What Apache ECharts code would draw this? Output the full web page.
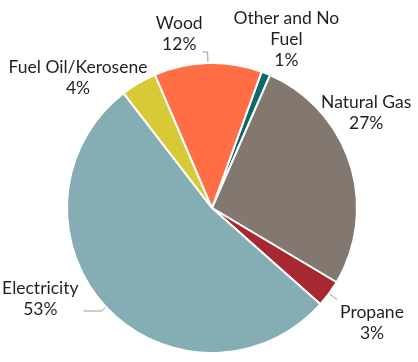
<!DOCTYPE html>
<html><head><meta charset="utf-8">
<script src="https://cdn.jsdelivr.net/npm/echarts@6/dist/echarts.min.js"></script>
<style>html,body{margin:0;padding:0;background:#fff}#c{width:418px;height:362px}</style>
</head><body><div id="c"></div>
<script>
// ---- data ----
const categories = ['Other and No Fuel', 'Natural Gas', 'Propane', 'Electricity', 'Fuel Oil/Kerosene', 'Wood'];
const labelText = ['Other and No\nFuel', 'Natural Gas', 'Propane', 'Electricity', 'Fuel Oil/Kerosene', 'Wood'];
const shares = [1, 27, 3, 53, 4, 12];
const colors = ['#0C6A6A', '#82786F', '#A82832', '#84AEB4', '#D8C936', '#FF6E45'];

// ---- label placement (styling only) ----
const placement = {
  'Other and No Fuel': { len: 36.5, len2: -51, dist: 5, pad: [0,0,0,0], line: false },
  'Natural Gas':       { len: 167, len2: -193, dist: 5, pad: [0,0,0,0], line: false },
  'Propane':           { len: 10, len2: 0, dist: 3, pad: [47,0,0,0], line: true },
  'Electricity':       { len: 6, len2: 18, dist: 5, pad: [0,0,25,0], line: true },
  'Fuel Oil/Kerosene': { len: 6.3, len2: -17, dist: 5, pad: [0,0,0,0], line: false },
  'Wood':              { len: 11, len2: 5, dist: 0, pad: [0,0,36,0], line: true }
};

const data = categories.map((name, i) => {
  const p = placement[name];
  return {
    name: name,
    value: shares[i],
    itemStyle: { color: colors[i] },
    label: {
      distanceToLabelLine: p.dist,
      padding: p.pad,
      formatter: () => labelText[i].split('\n').concat(shares[i] + '%').map(s => '{a|' + s + '}').join('\n')
    },
    labelLine: { show: p.line, length: p.len, length2: p.len2 }
  };
});

const chart = echarts.init(document.getElementById('c'), null, { renderer: 'canvas' });
chart.setOption({
  animation: false,
  backgroundColor: '#fff',
  series: [{
    type: 'pie',
    center: [212, 208],
    radius: 145,
    startAngle: 70,
    clockwise: true,
    avoidLabelOverlap: false,
    emphasis: { disabled: true },
    itemStyle: { borderColor: '#fff', borderWidth: 2 },
    label: {
      show: true,
      position: 'outside',
      rich: { a: { fontFamily: 'Lato', fontSize: 17.5, lineHeight: 21, color: '#231f20', align: 'center' } }
    },
    labelLine: { lineStyle: { color: '#9a9a9a', width: 1 } },
    data: data
  }]
});
</script>
</body></html>
